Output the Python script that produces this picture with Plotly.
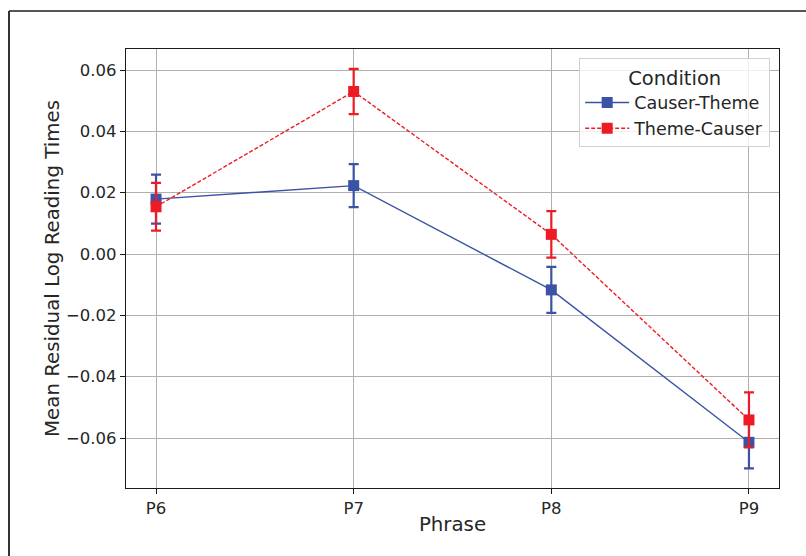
import plotly.graph_objects as go

phrases = ["P6", "P7", "P8", "P9"]
x_pos = [0, 1, 2, 3]

causer_theme_mean = [0.0179, 0.0223, -0.0117, -0.0614]
causer_theme_err = [0.0080, 0.0070, 0.0075, 0.0085]

theme_causer_mean = [0.0154, 0.0530, 0.0064, -0.0541]
theme_causer_err = [0.0078, 0.0074, 0.0076, 0.0090]

y_ticks = [0.06, 0.04, 0.02, 0.00, -0.02, -0.04, -0.06]

BLUE = "#3a53a4"
RED = "#ed1c24"
FONT = "DejaVu Sans"

fig = go.Figure()
fig.add_trace(go.Scatter(
    x=x_pos, y=causer_theme_mean, name="Causer-Theme", mode="lines+markers",
    line=dict(color=BLUE, width=1.4),
    marker=dict(symbol="square", size=11, color=BLUE),
    error_y=dict(type="data", array=causer_theme_err, color=BLUE, thickness=2.2, width=5),
))
fig.add_trace(go.Scatter(
    x=x_pos, y=theme_causer_mean, name="Theme-Causer", mode="lines+markers",
    line=dict(color=RED, width=1.4, dash="4px,2px"),
    marker=dict(symbol="square", size=11, color=RED),
    error_y=dict(type="data", array=theme_causer_err, color=RED, thickness=2.2, width=5),
))

axis_common = dict(
    showline=True, linecolor="#1a1a1a", linewidth=1.2, mirror=True,
    showgrid=True, gridcolor="#b0b0b0", gridwidth=1,
    ticks="outside", ticklen=5, tickwidth=1.2, tickcolor="#1a1a1a",
    tickfont=dict(family=FONT, size=16.5, color="#262626"),
    zeroline=False,
)

fig.update_layout(
    width=806, height=556,
    margin=dict(l=126, r=27, t=49, b=68),
    paper_bgcolor="white", plot_bgcolor="white",
    font=dict(family=FONT, color="#262626"),
    xaxis=dict(
        range=[-0.152, 3.152], tickvals=x_pos, ticktext=phrases,
        title=dict(text="Phrase", font=dict(family=FONT, size=19.8, color="#262626"), standoff=0),
        **axis_common,
    ),
    yaxis=dict(
        range=[-0.0763, 0.06685], tickvals=y_ticks, tickformat=".2f",
        title=dict(text="Mean Residual Log Reading Times", font=dict(family=FONT, size=19.8, color="#262626"), standoff=1),
        **axis_common,
    ),
    legend=dict(
        x=0.694, y=0.979, xanchor="left", yanchor="top",
        bgcolor="rgba(255,255,255,0.8)", bordercolor="#d0d0d0", borderwidth=1,
        font=dict(family=FONT, size=17.5, color="#262626"),
        title=dict(text="Condition", font=dict(family=FONT, size=19.5, color="#262626"), side="top center"),
        itemwidth=44,
    ),
    showlegend=True,
)

# outer frame (cut by image edges on right and bottom)
fig.add_shape(type="line", xref="paper", yref="paper",
              x0=(9 - 126) / 653, x1=(812 - 126) / 653,
              y0=1 + (49 - 11) / 439, y1=1 + (49 - 11) / 439,
              line=dict(color="#555555", width=2))
fig.add_shape(type="line", xref="paper", yref="paper",
              x0=(9 - 126) / 653, x1=(9 - 126) / 653,
              y0=1 + (49 - 11) / 439, y1=1 - (570 - 49) / 439,
              line=dict(color="#333333", width=2))

fig.write_html(
    "out.html",
    config={"displayModeBar": False},
    post_script="document.body.style.margin='0';document.body.style.overflow='hidden';",
)
